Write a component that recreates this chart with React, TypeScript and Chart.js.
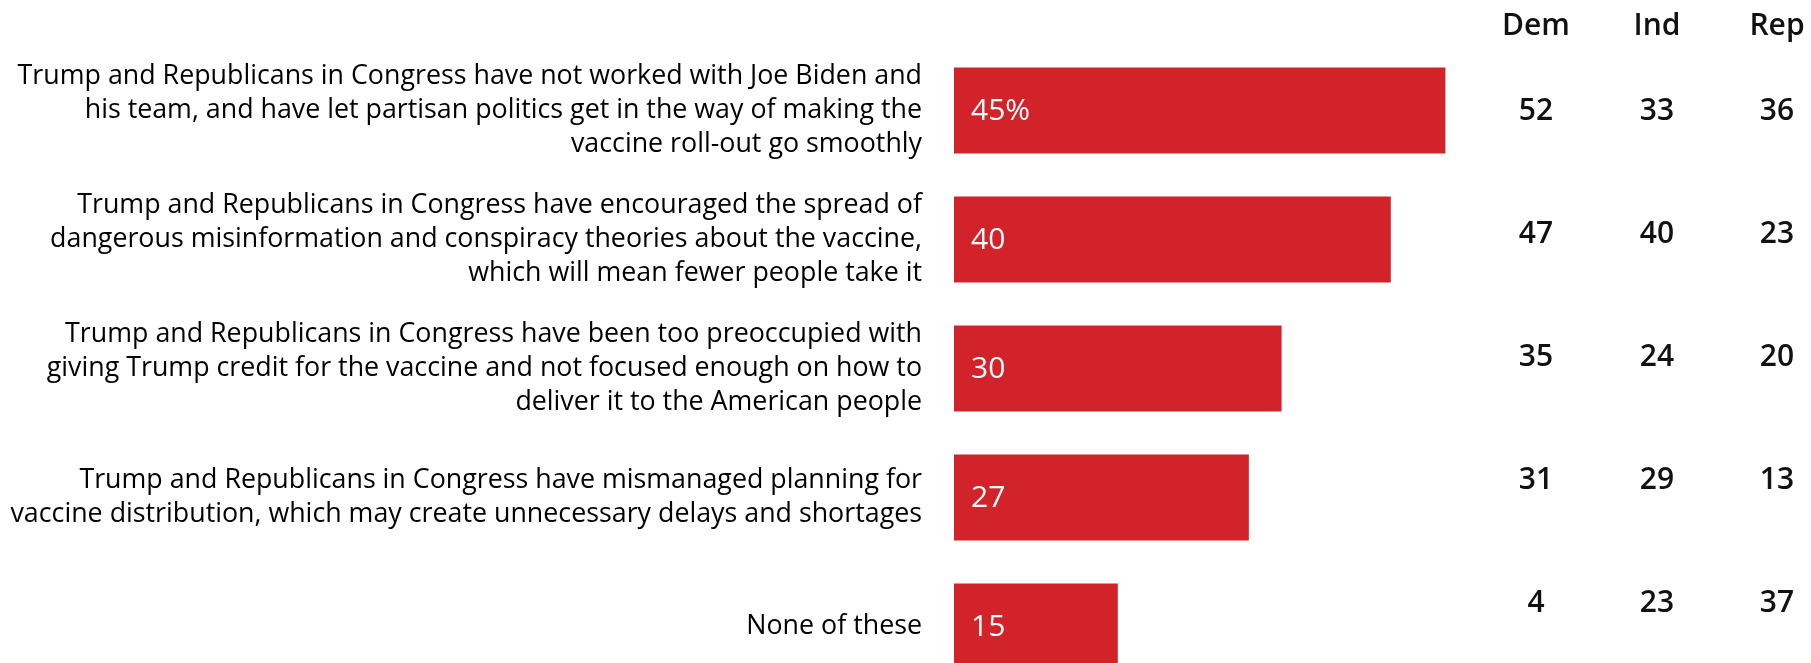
import React, { useEffect, useRef } from "react";
import { Chart, registerables } from "chart.js";

Chart.register(...registerables);

const categories: string[][] = [
  [
    "Trump and Republicans in Congress have not worked with Joe Biden and",
    "his team, and have let partisan politics get in the way of making the",
    "vaccine roll-out go smoothly",
  ],
  [
    "Trump and Republicans in Congress have encouraged the spread of",
    "dangerous misinformation and conspiracy theories about the vaccine,",
    "which will mean fewer people take it",
  ],
  [
    "Trump and Republicans in Congress have been too preoccupied with",
    "giving Trump credit for the vaccine and not focused enough on how to",
    "deliver it to the American people",
  ],
  [
    "Trump and Republicans in Congress have mismanaged planning for",
    "vaccine distribution, which may create unnecessary delays and shortages",
  ],
  ["None of these"],
];

const totalValues: number[] = [45, 40, 30, 27, 15];
const valueLabels: string[] = ["45%", "40", "30", "27", "15"];

const columnHeaders: string[] = ["Dem", "Ind", "Rep"];
const demValues: number[] = [52, 47, 35, 31, 4];
const indValues: number[] = [33, 40, 24, 29, 23];
const repValues: number[] = [36, 23, 20, 13, 37];

const BAR_RED = "#D2232A";
const FONT_FAMILY = "'Open Sans', Lato, sans-serif";

export default function App() {
  const canvasRef = useRef<HTMLCanvasElement | null>(null);

  useEffect(() => {
    const canvas = canvasRef.current;
    if (!canvas) return;

    const barLabelPlugin = {
      id: "barLabels",
      afterDatasetsDraw(chart: any) {
        const ctx = chart.ctx;
        const meta = chart.getDatasetMeta(0);
        ctx.save();
        ctx.fillStyle = "#ffffff";
        ctx.font = `500 30px ${FONT_FAMILY}`;
        ctx.textAlign = "left";
        ctx.textBaseline = "middle";
        meta.data.forEach((bar: any, i: number) => {
          const left = chart.scales.x.getPixelForValue(0);
          ctx.fillText(valueLabels[i], left + 17, bar.y + 1);
        });
        ctx.restore();
      },
    };

    const tablePlugin = {
      id: "partyTable",
      afterDraw(chart: any) {
        const ctx = chart.ctx;
        const colX = [1536, 1657, 1777];
        const headerY = 26;
        const rowStart = 111;
        const rowPitch = 123;
        const cols = [demValues, indValues, repValues];
        ctx.save();
        ctx.fillStyle = "#111111";
        ctx.textAlign = "center";
        ctx.textBaseline = "middle";
        ctx.font = `600 30px ${FONT_FAMILY}`;
        columnHeaders.forEach((h, c) => {
          ctx.fillText(h, colX[c], headerY);
        });
        cols.forEach((vals, c) => {
          vals.forEach((v, r) => {
            ctx.fillText(String(v), colX[c], rowStart + r * rowPitch);
          });
        });
        ctx.restore();
      },
    };

    const chart = new Chart(canvas, {
      type: "bar",
      data: {
        labels: categories,
        datasets: [
          {
            data: totalValues,
            backgroundColor: BAR_RED,
            borderWidth: 0,
            categoryPercentage: 1,
            barPercentage: 0.665,
          },
        ],
      },
      options: {
        indexAxis: "y",
        responsive: false,
        animation: false,
        layout: {
          padding: { top: 46, bottom: 9, left: 0, right: 311 },
        },
        plugins: {
          legend: { display: false },
          tooltip: { enabled: false },
          title: { display: false },
        },
        scales: {
          x: {
            display: false,
            min: 0,
            max: 50,
          },
          y: {
            grid: { display: false, drawTicks: false },
            border: { display: false },
            ticks: {
              color: "#000000",
              padding: 32,
              font: { family: FONT_FAMILY, size: 26.8, lineHeight: 1.27 },
              autoSkip: false,
            },
            afterFit(scale: any) {
              scale.width = 954;
              scale.paddingTop = 0;
              scale.paddingBottom = 0;
            },
          },
        },
      },
      plugins: [barLabelPlugin, tablePlugin],
    });

    return () => {
      chart.destroy();
    };
  }, []);

  return (
    <div
      style={{
        position: "absolute",
        left: 0,
        top: 0,
        width: 1811,
        height: 663,
        overflow: "hidden",
        background: "#ffffff",
      }}
    >
      <canvas
        ref={canvasRef}
        width={1811}
        height={700}
        style={{ display: "block", width: 1811, height: 700 }}
      />
    </div>
  );
}
